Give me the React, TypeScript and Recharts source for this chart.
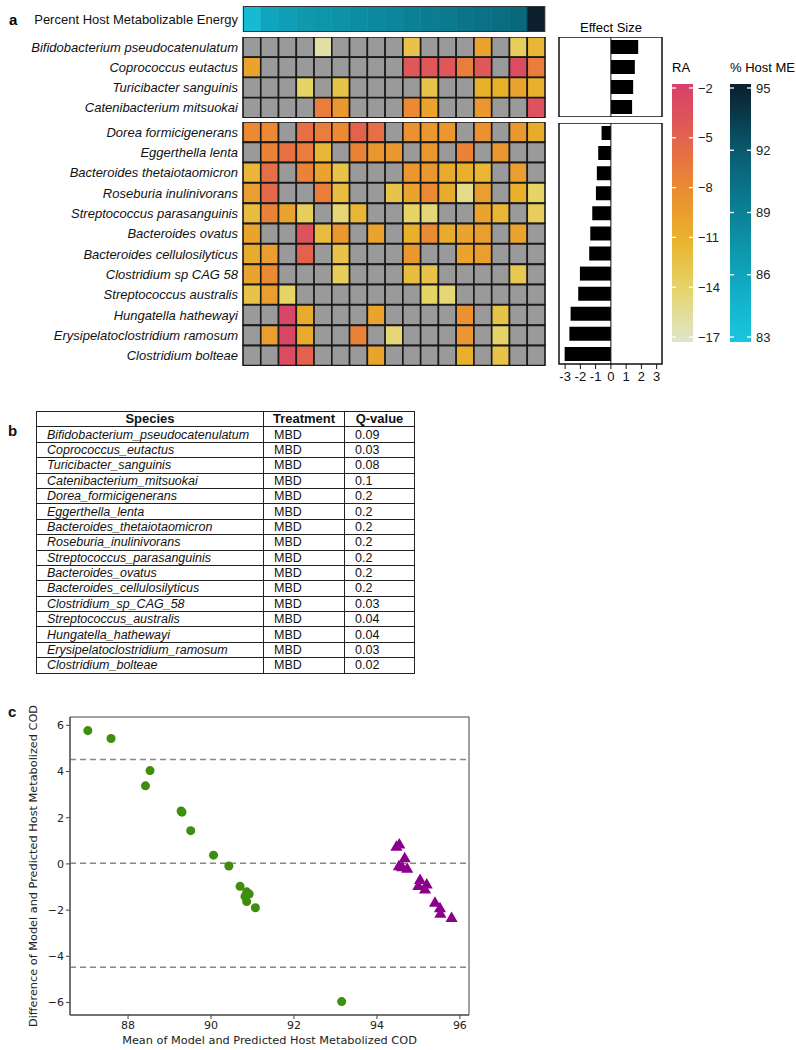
import React from 'react'
import {
  BarChart, Bar, XAxis, YAxis, ZAxis, Cell, ReferenceLine, ReferenceArea,
  ScatterChart, Scatter,
} from 'recharts'

// ---------- panel a data ----------
const topSpecies = [
  'Bifidobacterium pseudocatenulatum', 'Coprococcus eutactus',
  'Turicibacter sanguinis', 'Catenibacterium mitsuokai',
]
const bottomSpecies = [
  'Dorea formicigenerans', 'Eggerthella lenta', 'Bacteroides thetaiotaomicron',
  'Roseburia inulinivorans', 'Streptococcus parasanguinis', 'Bacteroides ovatus',
  'Bacteroides cellulosilyticus', 'Clostridium sp CAG 58', 'Streptococcus australis',
  'Hungatella hathewayi', 'Erysipelatoclostridium ramosum', 'Clostridium bolteae',
]

const N = null
// log relative abundance per sample (null = not detected)
const raTop = [
  [N, N, N, N, -16, N, N, N, N, -12.5, N, N, N, -10, N, -13.5, -11.5],
  [-10, N, N, N, N, N, N, N, N, -4, -4, -4, -7, -4, N, -3, -7],
  [N, N, N, -14, N, -12.5, N, N, N, N, -12.5, N, N, -11, -11, -10, -11],
  [N, N, N, N, -7, -9, N, N, N, -8, -10, N, N, -9, N, N, -3.5],
]
const raBottom = [
  [-8, -8, N, -6, -7, -8, -5, -6, N, -8.5, -9, -9, N, -8.5, N, -9, -10.5],
  [N, -7.5, -6, -7, -11.5, N, -7.5, -9, -9, N, -9, N, -7.5, N, -9, N, N],
  [-11.5, -6, N, -7.5, -10, -12.5, N, N, N, -9, -9, -10.5, -11, -11.5, N, -9.5, N],
  [-9.5, -5.5, N, N, -7, -12, N, N, -12.5, -10, -8, -10.5, -15, -9.5, N, -11, -14],
  [-12, -7.5, -10, -13.5, N, -14.5, -11.5, N, N, -14, -14.5, N, N, -10, -11.5, N, -13.5],
  [-10, N, N, -3.5, -12, -9, N, -10, N, -11, -8, -10.5, -10, -9.5, N, -10, N],
  [-10.5, -9.5, N, -5, N, -12.5, N, N, N, -9, N, N, -10, -9.5, N, N, N],
  [-10, -8, N, N, N, -13.5, N, N, N, -12, -12.5, N, N, N, N, -13, N],
  [-12.5, -9.5, -14, N, N, N, N, N, N, N, -14, -14.5, N, N, N, N, N],
  [N, N, -2.5, -10.5, N, N, N, -10, N, N, N, N, -8.5, N, -12.5, N, N],
  [N, -9.5, -2.5, -10.5, N, N, -7.5, N, -14.5, N, N, N, -9, N, -14, N, N],
  [N, N, -3, -5, N, N, N, -10, N, N, N, N, -11, N, -12.5, N, N],
]
const hostME = [84, 86, 86.5, 87, 87.3, 87.6, 88, 88.3, 88.6, 89, 89.3, 89.6, 90, 90.3, 90.6, 91, 95]

const effectTop = [1.79, 1.57, 1.46, 1.39]
const effectBottom = [-0.61, -0.83, -0.92, -0.98, -1.22, -1.35, -1.42, -2.03, -2.14, -2.64, -2.72, -3.03]
const effectTicks = [-3, -2, -1, 0, 1, 2, 3]

const raTicks = [-2, -5, -8, -11, -14, -17]
const meTicks = [95, 92, 89, 86, 83]

// ---------- panel b data ----------
const tableSpecies = [...topSpecies, ...bottomSpecies].map(s => s.replace(/ /g, '_'))
const treatment = tableSpecies.map(() => 'MBD')
const qValues = ['0.09', '0.03', '0.08', '0.1', '0.2', '0.2', '0.2', '0.2', '0.2', '0.2', '0.2', '0.03', '0.04', '0.04', '0.03', '0.02']

// ---------- panel c data ----------
const greenX = [87.03, 87.59, 88.53, 88.42, 89.28, 89.30, 89.51, 90.06, 90.43, 90.70, 90.86, 90.92, 90.82, 90.86, 91.07, 93.15]
const greenY = [5.77, 5.43, 4.04, 3.38, 2.29, 2.24, 1.44, 0.38, -0.09, -0.97, -1.21, -1.30, -1.41, -1.63, -1.90, -5.96]
const purpleX = [94.47, 94.54, 94.67, 94.53, 94.61, 94.73, 95.04, 95.00, 95.16, 95.20, 95.40, 95.52, 95.53, 95.80]
const purpleY = [0.72, 0.82, 0.22, -0.12, -0.17, -0.23, -0.72, -0.98, -1.13, -0.91, -1.70, -1.94, -2.18, -2.36]
const limitLines = [4.52, 0.03, -4.47]
const xTicksC = [88, 90, 92, 94, 96]
const yTicksC = [-6, -4, -2, 0, 2, 4, 6]

// ---------- colours ----------
const raStops: [number, string][] = [
  [-17, '#e0e5c8'], [-14, '#e6d466'], [-11, '#e9b12b'], [-8, '#eb8a33'], [-5, '#e3624e'], [-2, '#d7416b'],
]
const meStops: [number, string][] = [
  [83, '#19c6de'], [86, '#0fa5bc'], [89, '#0b8196'], [92, '#095b70'], [95, '#0b1f2d'],
]
const GRAY = '#9a9a9a'
const FONT = '"Liberation Sans", Arial, sans-serif'

function rgb(h: string) {
  const n = parseInt(h.slice(1), 16)
  return [(n >> 16) & 255, (n >> 8) & 255, n & 255]
}
function interp(stops: [number, string][], v: number) {
  if (v <= stops[0][0]) return stops[0][1]
  for (let i = 1; i < stops.length; i++) {
    if (v <= stops[i][0]) {
      const t = (v - stops[i - 1][0]) / (stops[i][0] - stops[i - 1][0])
      const a = rgb(stops[i - 1][1]), b = rgb(stops[i][1])
      const c = a.map((x, k) => Math.round(x + (b[k] - x) * t))
      return `rgb(${c[0]},${c[1]},${c[2]})`
    }
  }
  return stops[stops.length - 1][1]
}
const raColor = (v: number | null) => (v == null ? GRAY : interp(raStops, v))
const meColor = (v: number) => interp(meStops, v)

// ---------- heatmap block (stacked unit bars, one per sample) ----------
function HeatBlock({ names, colors, top, height, italic = true, strip = false }: any) {
  const nCols = colors[0].length
  const data = names.map((name: string) => {
    const row: any = { name }
    for (let j = 0; j < nCols; j++) row['c' + j] = 1
    return row
  })
  return (
    <div style={{ position: 'absolute', left: 0, top, width: 548, height }}>
      <BarChart width={548} height={height} data={data} layout="vertical"
        margin={{ top: 0, right: 3, bottom: 0, left: 0 }} barCategoryGap={0}>
        <XAxis type="number" hide domain={[0, nCols]} />
        <YAxis type="category" dataKey="name" width={243} axisLine={false} tickLine={false}
          tickSize={3} tickMargin={2} interval={0}
          tick={{ fontSize: 13, fill: '#111', fontStyle: italic ? 'italic' : 'normal' }} />
        {colors[0].map((_: any, j: number) => (
          <Bar key={j} dataKey={'c' + j} stackId="h" isAnimationActive={false}
            stroke={strip ? undefined : '#1a1a1a'} strokeWidth={strip ? 0.6 : 1.6}>
            {colors.map((row: string[], i: number) => (
              <Cell key={i} fill={row[j]} stroke={strip ? row[j] : '#1a1a1a'} />
            ))}
          </Bar>
        ))}
      </BarChart>
    </div>
  )
}

// ---------- effect size block ----------
function EffectBlock({ names, values, top, height, showAxis = false }: any) {
  const data = names.map((name: string, i: number) => ({ name, v: values[i] }))
  const axisH = showAxis ? 26 : 0
  return (
    <div style={{ position: 'absolute', left: 551, top, width: 119, height: height + axisH }}>
      <BarChart width={119} height={height + axisH} data={data} layout="vertical"
        margin={{ top: 0, right: 8, bottom: 0, left: 8 }} barCategoryGap="15%">
        <XAxis type="number" domain={[-3.4, 3.35]} ticks={effectTicks} hide={!showAxis}
          height={axisH} axisLine={false} tickSize={5} tickMargin={3} interval={0}
          allowDataOverflow tick={{ fontSize: 13, fill: '#111' }} tickLine={{ stroke: '#111' }} />
        <YAxis type="category" dataKey="name" hide />
        <ReferenceArea x1={-3.4} x2={3.35} fill="#fff" fillOpacity={0} stroke="#111" strokeWidth={1.5} ifOverflow="visible" />
        <ReferenceLine x={0} stroke="#111" strokeWidth={1} />
        <Bar dataKey="v" fill="#000" isAnimationActive={false} />
      </BarChart>
    </div>
  )
}

// ---------- colour bars (legend) ----------
function ColorBar({ id, x, stops, ticks, vTop, vBottom, fmt }: any) {
  const y0 = 84, y1 = 342, t0 = 88, t1 = 337, w = 21
  const pos = (v: number) => t0 + (vTop - v) / (vTop - vBottom) * (t1 - t0)
  const valAt = (y: number) => vTop - (y - t0) / (t1 - t0) * (vTop - vBottom)
  const offs = Array.from({ length: 11 }, (_, k) => k / 10)
  return (
    <g>
      <defs>
        <linearGradient id={id} x1="0" y1="0" x2="0" y2="1">
          {offs.map(o => (
            <stop key={o} offset={o} stopColor={interp(stops, valAt(y0 + o * (y1 - y0)))} />
          ))}
        </linearGradient>
      </defs>
      <rect x={x} y={y0} width={w} height={y1 - y0} fill={`url(#${id})`} />
      {ticks.map((t: number) => (
        <g key={t}>
          <line x1={x} x2={x + 4} y1={pos(t)} y2={pos(t)} stroke="#fff" strokeWidth={1.3} />
          <line x1={x + w - 4} x2={x + w} y1={pos(t)} y2={pos(t)} stroke="#fff" strokeWidth={1.3} />
          <text x={x + w + 5} y={pos(t)} dy="0.35em" fontSize={13} fill="#222">{fmt(t)}</text>
        </g>
      ))}
    </g>
  )
}

const minus = (v: number) => (v < 0 ? '\u2212' + Math.abs(v) : String(v))

export default function App() {
  const topColors = raTop.map(r => r.map(raColor))
  const bottomColors = raBottom.map(r => r.map(raColor))
  const stripColors = [hostME.map(meColor)]
  const greenData = greenX.map((x, i) => ({ x, y: greenY[i] }))
  const purpleData = purpleX.map((x, i) => ({ x, y: purpleY[i] }))
  const cell: React.CSSProperties = { border: '1px solid #222', padding: '0 0 0 10px', height: 14.4, lineHeight: '14px', whiteSpace: 'nowrap' }
  const head: React.CSSProperties = { ...cell, padding: 0, textAlign: 'center', fontWeight: 'bold', fontSize: 13 }

  return (
    <div style={{ position: 'absolute', left: 0, top: 0, width: 796, height: 1050, background: '#fff', fontFamily: FONT, color: '#111' }}>
      {/* panel a */}
      <HeatBlock names={['Percent Host Metabolizable Energy']} colors={stripColors} top={6} height={26} italic={false} strip />
      <div style={{ position: 'absolute', left: 243, top: 6, width: 302, height: 26, border: '1px solid #333', boxSizing: 'border-box' }} />
      <HeatBlock names={topSpecies} colors={topColors} top={37} height={81} />
      <HeatBlock names={bottomSpecies} colors={bottomColors} top={122} height={244} />
      <EffectBlock names={topSpecies} values={effectTop} top={37} height={80} />
      <EffectBlock names={bottomSpecies} values={effectBottom} top={123} height={241} showAxis />

      <svg width={796} height={400} style={{ position: 'absolute', left: 0, top: 0, pointerEvents: 'none' }}>
        <text x={9} y={25} fontSize={15} fontWeight="bold">a</text>
        <text x={611} y={32} fontSize={13} textAnchor="middle">Effect Size</text>
        <text x={672} y={72} fontSize={13}>RA</text>
        <text x={730} y={72} fontSize={13}>% Host ME</text>
        <ColorBar id="raGrad" x={672} stops={raStops} ticks={raTicks} vTop={-2} vBottom={-17} fmt={minus} />
        <ColorBar id="meGrad" x={730} stops={meStops} ticks={meTicks} vTop={95} vBottom={83} fmt={minus} />
      </svg>

      {/* panel b */}
      <div style={{ position: 'absolute', left: 8, top: 422, fontSize: 15, fontWeight: 'bold' }}>b</div>
      <table style={{ position: 'absolute', left: 36, top: 411, width: 378, borderCollapse: 'collapse', tableLayout: 'fixed', fontSize: 12.5, fontFamily: FONT }}>
        <colgroup>
          <col style={{ width: 227 }} />
          <col style={{ width: 81 }} />
          <col style={{ width: 70 }} />
        </colgroup>
        <thead>
          <tr>
            <th style={head}>Species</th>
            <th style={head}>Treatment</th>
            <th style={head}>Q-value</th>
          </tr>
        </thead>
        <tbody>
          {tableSpecies.map((s, i) => (
            <tr key={s}>
              <td style={{ ...cell, fontStyle: 'italic' }}>{s}</td>
              <td style={cell}>{treatment[i]}</td>
              <td style={cell}>{qValues[i]}</td>
            </tr>
          ))}
        </tbody>
      </table>

      {/* panel c */}
      <div style={{ position: 'absolute', left: 8, top: 703, fontSize: 15, fontWeight: 'bold' }}>c</div>
      <div style={{ position: 'absolute', left: 0, top: 700, width: 480, height: 350, fontFamily: '"DejaVu Sans", sans-serif' }}>
        <ScatterChart width={480} height={350} margin={{ top: 17, right: 11, bottom: 0, left: 0 }}>
          <XAxis type="number" dataKey="x" domain={[86.6, 96.22]} ticks={xTicksC} allowDataOverflow
            height={35} tickSize={4} tickMargin={2} axisLine={{ stroke: '#444' }} tickLine={{ stroke: '#444' }}
            tick={{ fontSize: 11, fill: '#222' }}
            label={{ value: 'Mean of Model and Predicted Host Metabolized COD', position: 'insideBottom', offset: 6, fontSize: 11.3, fill: '#222' }} />
          <YAxis type="number" dataKey="y" domain={[-6.54, 6.36]} ticks={yTicksC} allowDataOverflow
            width={70} tickSize={4} tickMargin={2} axisLine={{ stroke: '#444' }} tickLine={{ stroke: '#444' }}
            tick={{ fontSize: 11, fill: '#222' }} tickFormatter={minus}
            label={{ value: 'Difference of Model and Predicted Host Metabolized COD', angle: -90, position: 'insideLeft', offset: 33, fontSize: 11.3, fill: '#222', style: { textAnchor: 'middle' } }} />
          <ZAxis range={[52, 52]} />
          <ReferenceArea x1={86.6} x2={96.22} fill="#fff" fillOpacity={0} stroke="#444" strokeWidth={1} ifOverflow="visible" />
          {limitLines.map(v => (
            <ReferenceLine key={v} y={v} stroke="#888" strokeWidth={1.5} strokeDasharray="6 4" />
          ))}
          <Scatter data={greenData} fill="#3f8e0e" shape="circle" isAnimationActive={false} />
          <Scatter data={purpleData} fill="#8b008b" shape="triangle" isAnimationActive={false} />
        </ScatterChart>
      </div>
    </div>
  )
}
